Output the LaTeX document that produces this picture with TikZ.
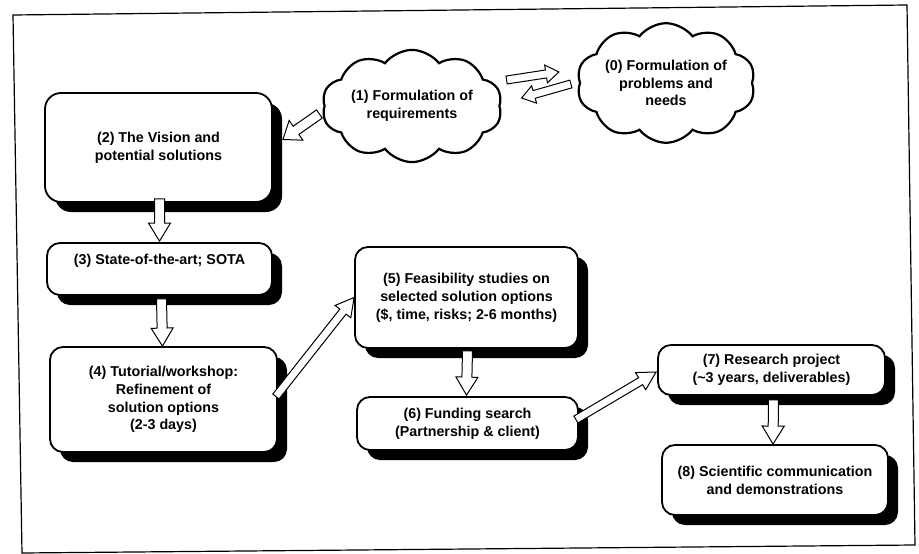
\documentclass[tikz,border=0pt]{standalone}
\usepackage{fontspec}
\setmainfont{Liberation Sans}
\usetikzlibrary{calc,shapes.symbols,shadows}
\newcommand\blockarr[5]{%
  \coordinate (baC) at ($(#2)!#5pt!(#1)$);
  \draw[arrowbody] ($(#1)!#3pt!90:(#2)$) -- ($(baC)!#3pt!90:(#2)$) -- ($(baC)!#4pt!90:(#2)$) -- (#2) -- ($(baC)!#4pt!-90:(#2)$) -- ($(baC)!#3pt!-90:(#2)$) -- ($(#1)!#3pt!-90:(#2)$) -- cycle;}
\begin{document}
\begin{tikzpicture}[x=1pt,y=-1pt,
  txt/.style={align=center, font=\fontsize{14.3}{17.8}\selectfont\bfseries},
  box/.style={txt, draw=black, line width=1.8pt, fill=white, rounded corners=13pt, inner sep=0pt,
    general shadow={shadow xshift=10pt, shadow yshift=-10pt, fill=black, opacity=1}},
  cloudnode/.style={txt, cloud, draw=black, line width=2.2pt, fill=white, cloud puffs=10,
    cloud puff arc=105, inner sep=0pt},
  arrowbody/.style={draw=black, line width=1pt, fill=white, line join=miter},
]
\useasboundingbox (0,0) rectangle (919,554);
\draw[line width=1.2pt] (13,15) -- (907,5) -- (915,545) -- (22,553) -- cycle;

\node[box, minimum width=227pt, minimum height=109pt, rounded corners=16pt] (n2) at (158.5,147.5) {(2) The Vision and\\potential solutions};
\node[box, minimum width=225pt, minimum height=52pt] (n3) at (159.5,269) {(3) State-of-the-art; SOTA\\[1pt]};
\node[box, minimum width=227pt, minimum height=105pt] (n4) at (163.5,399.5) {(4) Tutorial/workshop:\\Refinement of\\solution options\\(2-3 days)};
\node[box, minimum width=223pt, minimum height=101pt] (n5) at (466.5,297.5) {(5) Feasibility studies on\\selected solution options\\(\$, time, risks; 2-6 months)};
\node[box, minimum width=221pt, minimum height=53pt] (n6) at (467.5,423.5) {(6) Funding search\\(Partnership \& client)};
\node[box, minimum width=227pt, minimum height=50pt] (n7) at (771.5,370) {(7) Research project\\(\textasciitilde 3 years, deliverables)};
\node[box, minimum width=226pt, minimum height=70pt] (n8) at (775,480) {(8) Scientific communication\\and demonstrations};

\node[cloudnode, aspect=1.9, minimum width=180pt, minimum height=100pt] (c1) at (412,106) {(1) Formulation of\\requirements};
\node[cloudnode, aspect=1.75, minimum width=173pt, minimum height=97pt] (c0) at (666,83) {(0) Formulation of\\problems and\\needs};

% arrow end points
\coordinate (a10s) at ($(c1.east)+(6,-26)$);
\coordinate (a10e) at ($(c0.west)+(-20,-11)$);
\coordinate (a01s) at ($(c0.west)+(-8,1)$);
\coordinate (a01e) at ($(c1.east)+(21,-8)$);
\coordinate (a12s) at ($(c1.west)+(-4,8)$);
\coordinate (a12e) at ($(n2.east)+(10,-8)$);
\coordinate (a23s) at ($(n2.south)+(1,-4)$);
\coordinate (a23e) at ($(n3.north)+(0,-1)$);
\coordinate (a34s) at ($(n3.south)+(2,3)$);
\coordinate (a34e) at ($(n4.north)+(-1,0)$);
\coordinate (a45s) at ($(n4.east)+(-2,-3)$);
\coordinate (a45e) at ($(n5.west)+(0,0)$);
\coordinate (a56s) at ($(n5.south)+(1,2)$);
\coordinate (a56e) at ($(n6.north)+(-1,-1)$);
\coordinate (a67s) at ($(n6.east)+(-3,-4)$);
\coordinate (a67e) at ($(n7.west)+(-1,2)$);
\coordinate (a78s) at ($(n7.south)+(2,4)$);
\coordinate (a78e) at ($(n8.north)+(-2,0)$);

\blockarr{a10s}{a10e}{4}{9}{13}
\blockarr{a01s}{a01e}{4}{9}{13}
\blockarr{a12s}{a12e}{5}{12}{16}
\blockarr{a23s}{a23e}{5}{11}{18}
\blockarr{a34s}{a34e}{5}{11}{18}
\blockarr{a45s}{a45e}{4}{10}{18}
\blockarr{a56s}{a56e}{5}{11}{18}
\blockarr{a67s}{a67e}{4}{10}{18}
\blockarr{a78s}{a78e}{5}{11}{18}
\end{tikzpicture}
\end{document}
